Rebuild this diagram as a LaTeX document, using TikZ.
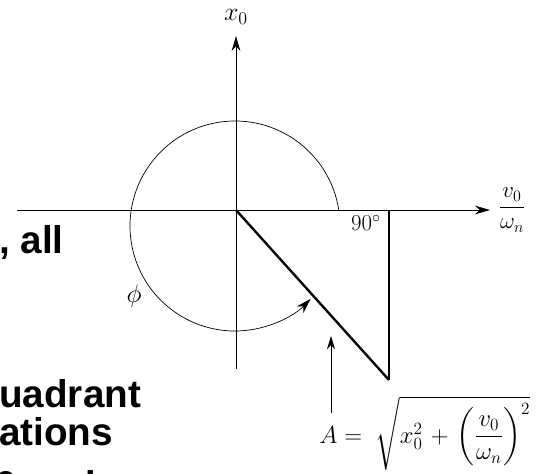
\RequirePackage{fix-cm}
\documentclass[tikz,border=0pt]{standalone}
\usepackage{amsmath}
\usepackage{fontspec}
\newfontfamily\slidefont{Liberation Sans}
\usetikzlibrary{arrows.meta,calc}
\tikzset{
  axisline/.style={line width=0.7pt, -{Stealth[length=4.5mm,width=2.6mm]}},
  vecline/.style={line width=2pt},
  legline/.style={line width=1.3pt},
  arcline/.style={line width=0.6pt, -{Stealth[length=4.5mm,width=2.8mm]}},
  pointer/.style={line width=0.6pt, -{Stealth[length=4mm,width=2.4mm]}},
  lbl/.style={font=\fontsize{22}{24}\selectfont, inner sep=1pt},
  smalllbl/.style={font=\fontsize{19.5}{21}\selectfont, inner sep=1pt},
  formula/.style={font=\fontsize{21}{23}\selectfont, inner sep=1pt, anchor=base west},
  slidetxt/.style={font=\slidefont\bfseries\fontsize{33}{35}\selectfont, inner sep=0pt, anchor=base west},
}

\begin{document}
\begin{tikzpicture}[x=0.03cm,y=0.03cm]
  \useasboundingbox (0,-473) rectangle (537,0);
  \clip (0,-473) rectangle (537,0);

  % cut-off slide text on the left
  \node[slidetxt] (t1) at (-1,-253) {, all};
  \node[slidetxt] (t2) at (-1,-407) {uadrant};
  \node[slidetxt] (t3) at (-1,-445) {ations};
  \node[slidetxt] (t4) at (-5,-498) {0 and};

  \coordinate (O)  at (236,-210);   % origin
  \coordinate (Xb) at (236,-369);   % bottom of the x_0 axis
  \coordinate (Xt) at (236,-36);    % tip of the x_0 axis
  \coordinate (Hl) at (17,-210);    % left end of the v_0/w_n axis
  \coordinate (Hr) at (490,-210);   % tip of the v_0/w_n axis
  \coordinate (Pr) at (389,-210);   % foot of the right angle
  \coordinate (Pe) at (389,-380);   % end of the amplitude vector
  \coordinate (C)  at (235,-226);   % centre of the phase arc

  % axes
  \draw[axisline] (Xb) -- (Xt);
  \draw[axisline] (Hl) -- (Hr);
  \node[lbl] (x0) at (236,-17) {$x_0$};
  \node[smalllbl] (vw) at (512,-210) {$\dfrac{v_0}{\omega_n}$};

  % amplitude triangle
  \draw[vecline] (O) -- (Pe);
  \draw[legline] (Pr) -- (Pe);
  \node[smalllbl] (rt) at (366,-223) {$90^\circ$};

  % phase angle
  \draw[arcline] ($(C)+(8.8:105)$) arc[start angle=8.8, end angle=316, radius=105];
  \node[lbl] (phi) at (134,-296) {$\phi$};

  % amplitude formula with pointer
  \node[formula] (A) at (318,-443)
    {$A=\mkern5mu\sqrt{x_0^2\mkern2mu+\mkern2mu\left(\dfrac{v_0}{\omega_n}\right)^{2}}$};
  \coordinate (Ab) at (331,-413);
  \coordinate (At) at (331,-336);
  \draw[pointer] (Ab) -- (At);
\end{tikzpicture}
\end{document}
